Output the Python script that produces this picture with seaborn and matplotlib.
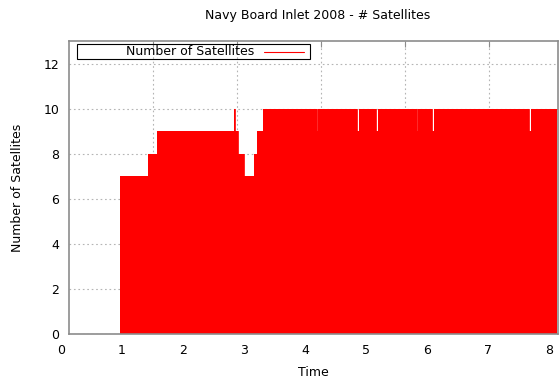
import numpy as np
import pandas as pd
import matplotlib
matplotlib.use("Agg")
import matplotlib.pyplot as plt
import matplotlib.transforms as mtransforms
from matplotlib.patches import Rectangle
from matplotlib.lines import Line2D
import seaborn as sns

# Satellite count as a step series: value holds from each time until the next
times = [0.0, 0.84, 1.30, 1.45, 2.705, 2.73, 2.77, 2.87, 3.03, 3.08, 3.18,
         4.07, 4.09, 4.73, 4.75, 5.04, 5.06, 5.71, 5.73, 5.96, 5.98,
         7.55, 7.57, 8.0]
satellites = [0, 7, 8, 9, 10, 9, 8, 7, 8, 9, 10,
              9, 10, 9, 10, 9, 10, 9, 10, 9, 10,
              9, 10, 10]

title = "Navy Board Inlet 2008 - # Satellites"
series_label = "Number of Satellites"
x_label = "Time"
y_label = "Number of Satellites"
x_ticks = [0, 1, 2, 3, 4, 5, 6, 7, 8]
y_ticks = [0, 2, 4, 6, 8, 10, 12]

df = pd.DataFrame({"Time": times, "Satellites": satellites})

sns.set_style("white")
plt.rcParams["font.family"] = ["DejaVu Sans"]
plt.rcParams["text.color"] = "#000000"
plt.rcParams["axes.labelcolor"] = "#000000"

RED = "#ff0000"
FRAME = "#8c8c8c"
GRID = "#b4b4b4"
DOTS = (0, (1.5, 2.5))

fig = plt.figure(figsize=(5.6, 3.8), dpi=100)
ax = fig.add_axes([69 / 560, 1 - 334 / 380, 489 / 560, 293 / 380])

ax.fill_between(df["Time"], 0, df["Satellites"], step="post",
                color=RED, linewidth=0, zorder=2)
sns.lineplot(data=df, x="Time", y="Satellites", drawstyle="steps-post",
             color=RED, linewidth=0.6, ax=ax, legend=False, zorder=2)

x_min, x_max = 0.0, 8.02
ax.set_xlim(x_min, x_max)
ax.set_ylim(0, 13)

# Top axis carries the vertical grid (drawn beneath the data)
ax_top = ax.twiny()
ax_top.set_xlim(x_min, x_max)
grid_step = 84 / 61
ax_top.set_xticks(np.arange(x_min, x_max, grid_step)[1:])
ax_top.tick_params(axis="x", direction="in", length=4, color=FRAME,
                   labeltop=False, top=True)
ax_top.grid(True, axis="x", color=GRID, linestyle=DOTS, linewidth=0.8)
ax_top.set_zorder(0)
ax.set_zorder(1)
ax.patch.set_visible(False)
for s in ax_top.spines.values():
    s.set_visible(False)

ax.set_xticks(x_ticks)
ax.set_yticks(y_ticks)
ax.tick_params(axis="x", length=0, pad=7, labelsize=9, labelcolor="#000000")
ax.tick_params(axis="y", direction="in", length=4, color=FRAME, pad=7,
               labelsize=9, labelcolor="#000000")
ax.set_axisbelow(True)
ax.grid(True, axis="y", color=GRID, linestyle=DOTS, linewidth=0.8)
ax.grid(False, axis="x")
for s in ax.spines.values():
    s.set_color(FRAME)
    s.set_linewidth(1.2)
    s.set_visible(True)

# x tick labels sit a little to the left of their tick positions
shift = mtransforms.ScaledTranslation(-8 / 100, 0, fig.dpi_scale_trans)
for lbl in ax.get_xticklabels():
    lbl.set_transform(lbl.get_transform() + shift)

ax.set_xlabel(x_label, fontsize=9, color="#000000")
ax.xaxis.set_label_coords((313 - 69) / 489, -(372 - 334) / 293)
ax.xaxis.label.set_va("center")
ax.set_ylabel(y_label, fontsize=9, labelpad=14, color="#000000")
fig.text(318 / 560, 1 - 16 / 380, title, ha="center", va="center",
         fontsize=9, color="#000000")

# Key box in the upper-left corner: label followed by a line sample
ax.add_patch(Rectangle(((77 - 69) / 489, (334 - 59) / 293), (310 - 77) / 489,
                       15 / 293, transform=ax.transAxes, fill=False,
                       edgecolor="#000000", linewidth=0.8, zorder=5))
ky = (334 - 51.5) / 293
ax.text((254 - 69) / 489, ky, series_label, transform=ax.transAxes,
        ha="right", va="center", fontsize=9, color="#000000", zorder=5)
ax.add_line(Line2D([(264 - 69) / 489, (304 - 69) / 489], [ky, ky],
                   transform=ax.transAxes, color=RED, linewidth=0.8, zorder=5))

fig.savefig("out.png", dpi=100)
